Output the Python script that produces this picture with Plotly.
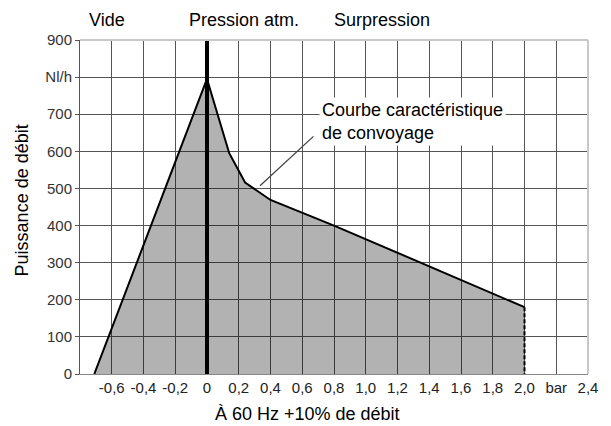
import numpy as np
import plotly.graph_objects as go

# ---- data ----
curve_x = [-0.71, 0.0, 0.14, 0.24, 0.40, 0.80, 2.00]
curve_y = [0, 795, 595, 516, 469, 400, 180]

end_x = [2.0, 2.0]
end_y = [180, 0]

x_tickvals = [round(v, 1) for v in np.arange(-0.6, 2.41, 0.2)]
x_ticktext = ["-0,6", "-0,4", "-0,2", "0", "0,2", "0,4", "0,6", "0,8", "1,0",
              "1,2", "1,4", "1,6", "1,8", "2,0", "bar", "2,4"]
y_tickvals = list(range(0, 901, 100))
y_ticktext = ["0", "100", "200", "300", "400", "500", "600", "700", "Nl/h", "900"]

top_labels = ["Vide", "Pression atm.", "Surpression"]
top_label_pos = [0.053, 0.323, 0.594]

callout_text = "Courbe caractéristique<br>de convoyage"
callout_point = (0.334, 507)
callout_tail = (0.68, 644)

x_title = "À 60 Hz +10% de débit"
y_title = "Puissance de débit"

FONT = "Liberation Sans, Arial, sans-serif"
GRID = "#555555"

fig = go.Figure()

fig.add_trace(go.Scatter(
    x=curve_x, y=curve_y, mode="lines",
    line=dict(color="black", width=2),
    fill="tozeroy", fillcolor="rgba(0,0,0,0.3)",
    hoverinfo="skip", showlegend=False,
))
fig.add_trace(go.Scatter(
    x=end_x, y=end_y, mode="lines",
    line=dict(color="black", width=2, dash="4px,2px"),
    hoverinfo="skip", showlegend=False,
))

# the page body adds an 8px margin, so the figure is 8px smaller than the window
fig.update_layout(
    width=603, height=418,
    margin=dict(l=72, r=23, t=32, b=52),
    paper_bgcolor="white", plot_bgcolor="white",
    font=dict(family=FONT, color="#222222", size=15),
    showlegend=False,
)

fig.update_xaxes(
    range=[-0.8, 2.4],
    tickvals=x_tickvals, ticktext=x_ticktext,
    tickfont=dict(size=15, color="#222222"),
    showgrid=True, gridcolor=GRID, gridwidth=1,
    zeroline=True, zerolinecolor="black", zerolinewidth=3.5,
    showline=True, linecolor="#888888", linewidth=1,
    ticks="", fixedrange=True,
)
fig.update_yaxes(
    range=[0, 900],
    tickvals=y_tickvals, ticktext=y_ticktext,
    tickfont=dict(size=15, color="#333333"),
    showgrid=True, gridcolor=GRID, gridwidth=1,
    zeroline=False,
    showline=True, linecolor="#555555", linewidth=1,
    ticks="outside", ticklen=4, tickcolor="#555555",
    fixedrange=True,
)

# light top / right frame
fig.add_shape(type="line", xref="paper", yref="paper", x0=0, x1=1, y0=1, y1=1,
              line=dict(color="#c8c8c8", width=2), layer="above")
fig.add_shape(type="line", xref="paper", yref="paper", x0=1, x1=1, y0=0, y1=1,
              line=dict(color="#c8c8c8", width=2), layer="above")

for txt, px in zip(top_labels, top_label_pos):
    fig.add_annotation(text=txt, xref="paper", yref="paper", x=px, y=1.06,
                       xanchor="center", yanchor="middle", showarrow=False,
                       font=dict(size=18, color="black", family=FONT))

fig.add_annotation(text="", x=callout_point[0], y=callout_point[1],
                   xref="x", yref="y", axref="x", ayref="y",
                   ax=callout_tail[0], ay=callout_tail[1],
                   showarrow=True, arrowhead=0, arrowwidth=1.3,
                   arrowcolor="#444444")
fig.add_annotation(text=callout_text, xref="paper", yref="paper",
                   x=0.471, y=0.757, xanchor="left", yanchor="middle",
                   align="left", showarrow=False, bgcolor="white", borderpad=2,
                   font=dict(size=18, color="black", family=FONT))

fig.add_annotation(text=x_title, xref="paper", yref="paper", x=0.447, y=-0.12,
                   xanchor="center", yanchor="middle", showarrow=False,
                   font=dict(size=18, color="black", family=FONT))
fig.add_annotation(text=y_title, xref="paper", yref="paper", x=-0.114, y=0.52,
                   xanchor="center", yanchor="middle", showarrow=False,
                   textangle=-90,
                   font=dict(size=18, color="black", family=FONT))

fig.write_html("out.html")
